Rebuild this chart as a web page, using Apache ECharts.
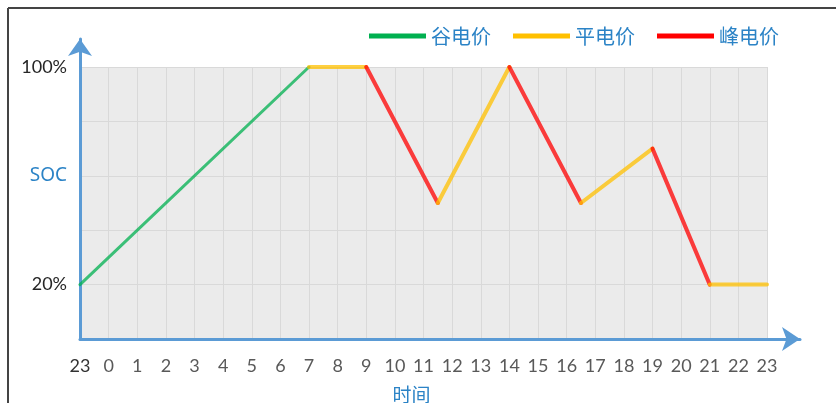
<!DOCTYPE html>
<html>
<head>
<meta charset="utf-8">
<script src="https://cdn.jsdelivr.net/npm/echarts@6/dist/echarts.min.js"></script>
<style>
	html, body { margin: 0; padding: 0; background: #fff; }
	#chart { width: 836px; height: 403px; }
</style>
</head>
<body>
<div id="chart"></div>
<script>
	// tick labels along the time axis (hour of day, starting at 23:00)
	const hourLabels = ['23', '0', '1', '2', '3', '4', '5', '6', '7', '8', '9', '10', '11',
		'12', '13', '14', '15', '16', '17', '18', '19', '20', '21', '22', '23']
	// SOC curve: x = hours after 23:00, y = state of charge (%)
	const socTime = [0, 8, 10, 12.5, 15, 17.5, 20, 22, 24]
	const socValue = [20, 100, 100, 50, 100, 50, 70, 20, 20]
	// tariff of each segment between two consecutive points
	const segTariff = ['谷电价', '平电价', '峰电价', '平电价', '峰电价', '平电价', '峰电价', '平电价']
	const tariffNames = ['谷电价', '平电价', '峰电价']
	const tariffColors = ['#00b050', '#ffc000', '#ff0000']
	const tariffWidths = [3, 4, 4]

	const blue = '#5b9bd5'
	const textBlue = '#2b83c6'

	const series = []
	for (let i = 0; i < segTariff.length; i++) {
		const k = tariffNames.indexOf(segTariff[i])
		series.push({
			name: segTariff[i],
			type: 'line',
			xAxisIndex: 0,
			yAxisIndex: 0,
			showSymbol: false,
			silent: true,
			z: 3,
			data: [[socTime[i], socValue[i]], [socTime[i + 1], socValue[i + 1]]],
			itemStyle: { color: tariffColors[k] },
			lineStyle: { color: tariffColors[k], width: tariffWidths[k], opacity: 0.75, cap: 'round' }
		})
	}

	const chart = echarts.init(document.getElementById('chart'))
	chart.setOption({
		animation: false,
		legend: {
			left: 364,
			top: 21,
			itemWidth: 57,
			itemHeight: 5,
			itemGap: 22,
			icon: 'rect',
			textStyle: { color: textBlue, fontSize: 20, fontFamily: 'Noto Sans CJK SC' },
			data: tariffNames.map((n, i) => ({
				name: n,
				itemStyle: { color: tariffColors[i] }
			}))
		},
		graphic: [
			{ type: 'line', shape: { x1: 8, y1: 8, x2: 836, y2: 8 }, style: { stroke: '#444', lineWidth: 2 } },
			{ type: 'line', shape: { x1: 8, y1: 8, x2: 8, y2: 403 }, style: { stroke: '#444', lineWidth: 2 } }
		],
		grid: [
			{ left: 80, right: 69, top: 67, bottom: 64, show: true, backgroundColor: '#ebebeb', borderWidth: 0, outerBoundsMode: 'none', containLabel: false },
			{ left: 80, right: 36, top: 39, bottom: 64, outerBoundsMode: 'none', containLabel: false }
		],
		xAxis: [{
			type: 'value',
			gridIndex: 0,
			min: 0,
			max: 24,
			interval: 1,
			name: '时间',
			nameLocation: 'middle',
			nameGap: 46,
			nameTextStyle: { color: textBlue, fontSize: 19, fontFamily: 'Noto Sans CJK SC', padding: [0, 24, 0, 0] },
			axisLine: { show: false },
			axisTick: { show: false },
			axisLabel: {
				margin: 18,
				color: '#595959',
				fontSize: 18,
				fontFamily: 'Lato',
				formatter: function (v) {
					return v === 0 ? '{first|' + hourLabels[v] + '}' : hourLabels[v]
				},
				rich: { first: { color: '#333', fontSize: 18, fontFamily: 'Lato' } }
			},
			splitLine: { show: true, lineStyle: { color: '#d9d9d9', width: 1 } }
		}, {
			type: 'value',
			gridIndex: 1,
			min: 0,
			max: 1,
			axisLine: { show: true, symbol: ['none', 'arrow'], symbolSize: [18, 18], lineStyle: { color: blue, width: 3 } },
			axisTick: { show: false },
			axisLabel: { show: false },
			splitLine: { show: false }
		}],
		yAxis: [{
			type: 'value',
			gridIndex: 0,
			min: 0,
			max: 100,
			interval: 20,
			axisLine: { show: false },
			axisTick: { show: false },
			axisLabel: {
				margin: 13,
				color: '#262626',
				fontSize: 18,
				fontFamily: 'Lato',
				formatter: function (v) {
					if (v === 100 || v === 20) return v + '%'
					if (v === 60) return '{soc|SOC}'
					return ''
				},
				rich: { soc: { color: textBlue, fontSize: 19, fontFamily: 'Noto Sans' } }
			},
			splitLine: { show: true, lineStyle: { color: '#d9d9d9', width: 1 } }
		}, {
			type: 'value',
			gridIndex: 1,
			min: 0,
			max: 1,
			axisLine: { show: true, symbol: ['none', 'arrow'], symbolSize: [18, 17], lineStyle: { color: blue, width: 3 } },
			axisTick: { show: false },
			axisLabel: { show: false },
			splitLine: { show: false }
		}],
		series: series
	})
</script>
</body>
</html>
